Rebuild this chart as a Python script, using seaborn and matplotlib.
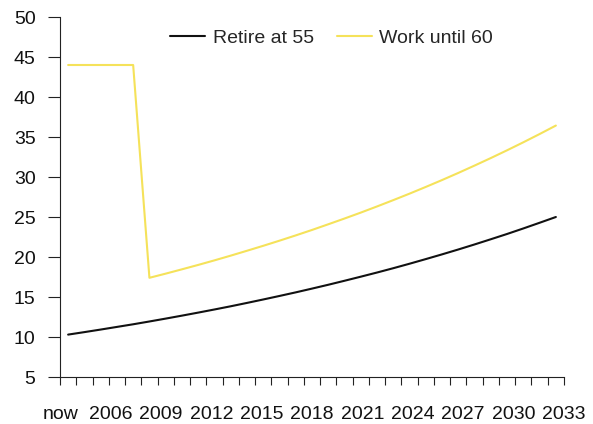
import matplotlib.pyplot as plt
import matplotlib.transforms as mtransforms
import numpy as np
import pandas as pd
import seaborn as sns

# Categories on the x axis ("now" is followed by each year up to 2033)
YEARS = ['now'] + [str(y) for y in range(2004, 2034)]
TICK_LABELS = ['now', '2006', '2009', '2012', '2015', '2018', '2021', '2024', '2027', '2030', '2033']

# Series
RETIRE_55 = [10.30, 10.61, 10.93, 11.26, 11.59, 11.94, 12.30, 12.67, 13.05, 13.44, 13.84,
             14.26, 14.69, 15.13, 15.58, 16.05, 16.53, 17.03, 17.54, 18.06, 18.60,
             19.16, 19.74, 20.33, 20.94, 21.57, 22.22, 22.88, 23.57, 24.28, 25.00]
WORK_60 = [44.0, 44.0, 44.0, 44.0, 44.0, 17.40, 17.92, 18.46, 19.01, 19.58, 20.17,
           20.78, 21.40, 22.04, 22.70, 23.38, 24.09, 24.81, 25.55, 26.32, 27.11,
           27.92, 28.76, 29.62, 30.51, 31.43, 32.37, 33.34, 34.34, 35.37, 36.43]

SERIES = ['Retire at 55', 'Work until 60']
COLOURS = ['#111111', '#F5E25A']

sns.set_style('ticks')
plt.rcParams['font.family'] = ['Liberation Sans', 'DejaVu Sans']

# Long-form table for seaborn
idx = np.arange(len(YEARS))
df = pd.DataFrame({
    'pos': np.concatenate([idx, idx]),
    'value': RETIRE_55 + WORK_60,
    'series': [SERIES[0]] * len(YEARS) + [SERIES[1]] * len(YEARS),
})

fig = plt.figure(figsize=(5.93, 4.24), dpi=100)
ax = fig.add_axes([60 / 593, 1 - 377 / 424, 504 / 593, 360 / 424])

sns.lineplot(data=df, x='pos', y='value', hue='series', palette=COLOURS,
             linewidth=1.5, ax=ax)

ax.set_yticks(range(5, 51, 5))

# The labels are spread evenly over the whole axis (nudged a little to the left)
ax.set_xticks(np.linspace(-0.49, len(YEARS) - 0.51, len(TICK_LABELS)))
ax.set_xticklabels(TICK_LABELS)
nudge = mtransforms.ScaledTranslation(-0.07, 0, fig.dpi_scale_trans)
for label in ax.get_xticklabels():
    label.set_transform(label.get_transform() + nudge)
# Tick marks sit between the categories
ax.set_xticks(np.arange(-0.5, len(YEARS), 1.0), minor=True)
ax.tick_params(axis='x', which='major', length=0, pad=21, labelsize=14, colors='#111111')
ax.tick_params(axis='x', which='minor', length=6, width=0.8, color='#222222')
ax.tick_params(axis='y', length=8.6, width=0.8, pad=9, labelsize=14,
               color='#222222', labelcolor='#111111')

# Limits last, so the tick positions do not widen the view
ax.set_xlim(-0.5, len(YEARS) - 0.5)
ax.set_ylim(5, 50)

ax.set_xlabel('')
ax.set_ylabel('')
sns.despine(ax=ax)
for side in ['left', 'bottom']:
    ax.spines[side].set_color('#222222')
    ax.spines[side].set_linewidth(0.8)

ax.legend(loc='center', bbox_to_anchor=(0.539, 0.942), ncol=2, frameon=False,
          fontsize=14, handlelength=1.8, handletextpad=0.4, columnspacing=1.15,
          borderpad=0, borderaxespad=0)

fig.savefig('out.png', dpi=100)
